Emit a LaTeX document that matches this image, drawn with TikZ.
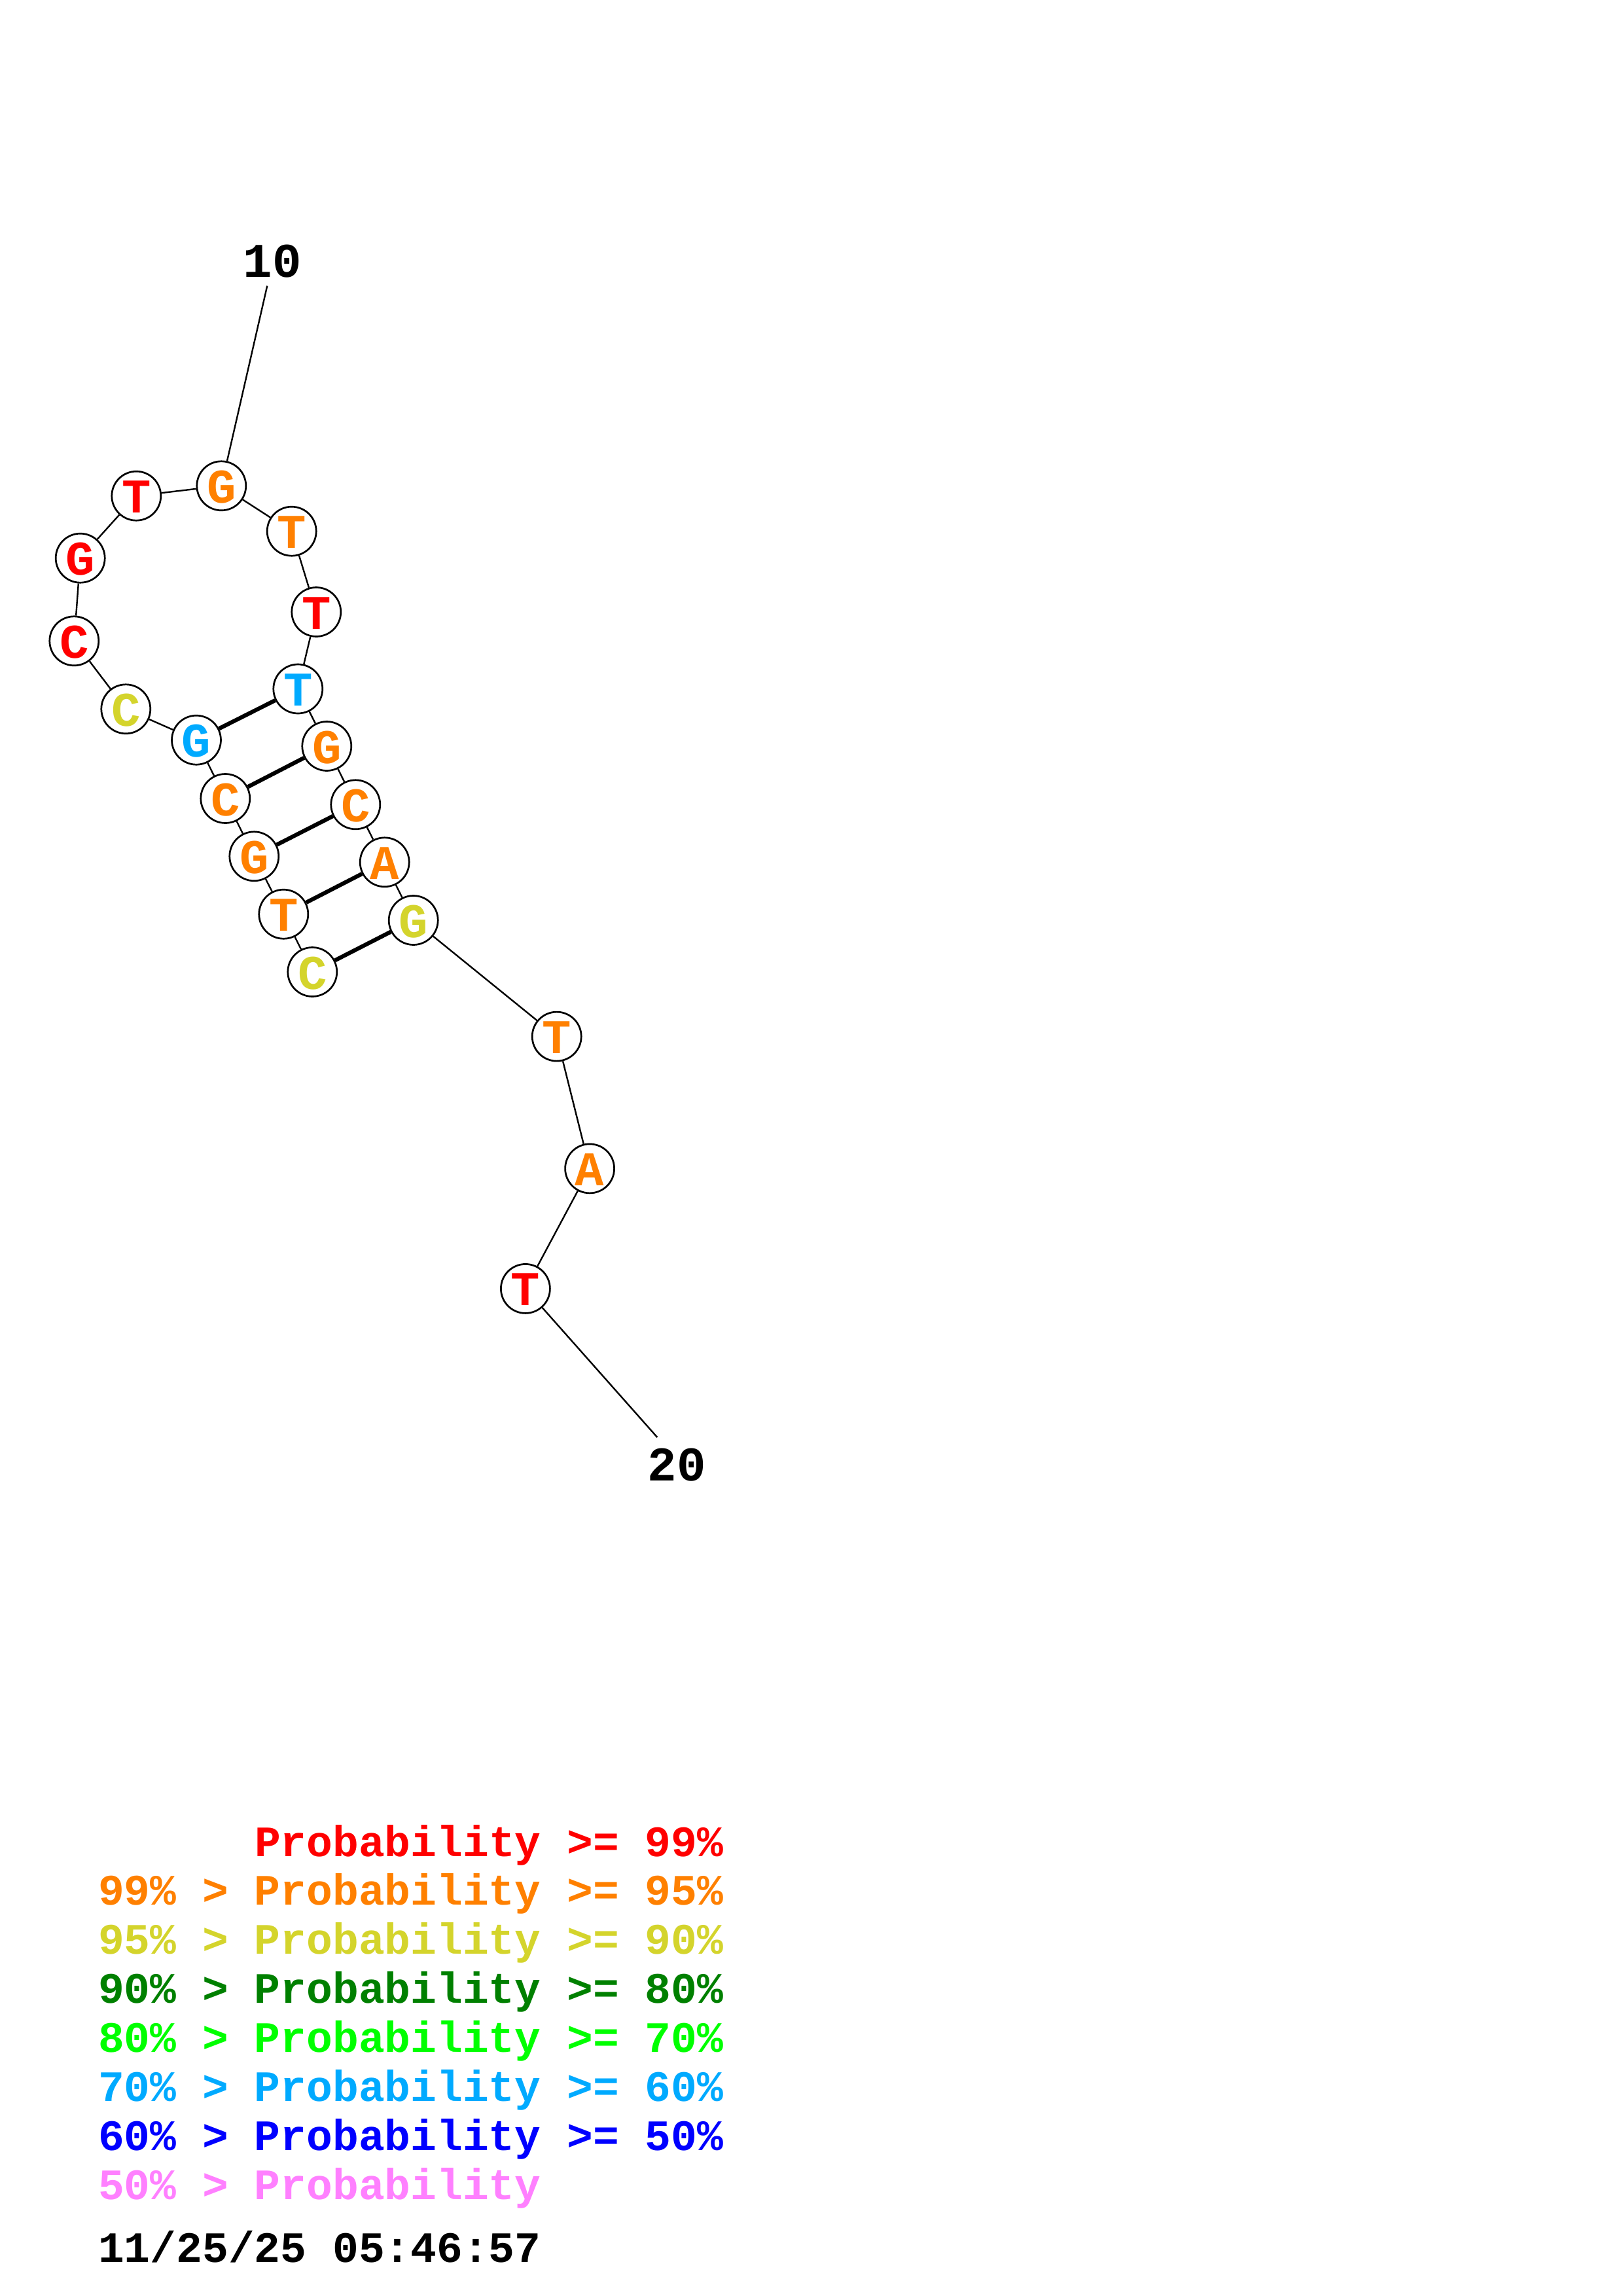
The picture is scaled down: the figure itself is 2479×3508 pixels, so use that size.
\documentclass[tikz,border=0pt]{standalone}
\usepackage{fontspec}
\newfontfamily\monofam{Liberation Mono}
\newcommand\nodefnt{\monofam\bfseries\fontsize{74}{80}\selectfont}
\newcommand\legfnt{\monofam\bfseries\fontsize{66.3}{75}\selectfont}
\definecolor{pred}{RGB}{255,0,0}
\definecolor{porange}{RGB}{255,128,0}
\definecolor{pyellow}{RGB}{212,212,44}
\definecolor{pdgreen}{RGB}{0,128,0}
\definecolor{pgreen}{RGB}{0,255,0}
\definecolor{plblue}{RGB}{0,170,255}
\definecolor{pblue}{RGB}{0,0,255}
\definecolor{ppink}{RGB}{255,128,255}
\tikzset{
  nt/.style={circle, draw=black, line width=2.7pt, fill=white, minimum size=75pt,
    inner sep=0pt, text height=52pt, text depth=0pt, font=\nodefnt},
  bb/.style={line width=2.4pt, draw=black},
  pair/.style={line width=6.2pt, draw=black},
  numlab/.style={anchor=base, inner sep=0pt, font=\nodefnt},
  leg/.style={anchor=base west, inner sep=0pt, font=\legfnt}
}
\begin{document}
\begin{tikzpicture}[x=1pt,y=-1pt]
\fill[white] (0,0) rectangle (2479,3508);
\useasboundingbox (0,0) rectangle (2479,3508);
% nucleotides
\node[nt, text=pyellow] (n1) at (477.3,1485) {C};
\node[nt, text=porange] (n2) at (433.3,1396.7) {T};
\node[nt, text=porange] (n3) at (388.3,1308.3) {G};
\node[nt, text=porange] (n4) at (344.3,1220) {C};
\node[nt, text=plblue] (n5) at (300,1130.7) {G};
\node[nt, text=pyellow] (n6) at (192.3,1083.3) {C};
\node[nt, text=pred] (n7) at (113.3,979.3) {C};
\node[nt, text=pred] (n8) at (122.7,852.7) {G};
\node[nt, text=pred] (n9) at (208.3,757.7) {T};
\node[nt, text=porange] (n10) at (338.3,742.3) {G};
\node[nt, text=porange] (n11) at (445.7,811.7) {T};
\node[nt, text=pred] (n12) at (483.3,935) {T};
\node[nt, text=plblue] (n13) at (455.3,1052.5) {T};
\node[nt, text=porange] (n14) at (499.3,1140) {G};
\node[nt, text=porange] (n15) at (543.3,1229.3) {C};
\node[nt, text=porange] (n16) at (587.7,1317.3) {A};
\node[nt, text=pyellow] (n17) at (631.7,1406) {G};
\node[nt, text=porange] (n18) at (850.7,1583.6) {T};
\node[nt, text=porange] (n19) at (901.1,1785.4) {A};
\node[nt, text=pred] (n20) at (802.9,1968.9) {T};
% backbone
\foreach \a/\b in {1/2,2/3,3/4,4/5,5/6,6/7,7/8,8/9,9/10,10/11,11/12,12/13,13/14,14/15,15/16,16/17,17/18,18/19,19/20}
  \draw[bb] (n\a) -- (n\b);
% pairs
\foreach \a/\b in {1/17,2/16,3/15,4/14,5/13}
  \draw[pair] (n\a) -- (n\b);
% number labels
\node[numlab] (lab10) at (416.3,423.5) {10};
\coordinate (e10) at (408.3,436.7);
\draw[bb] (n10) -- (e10);
\node[numlab] (lab20) at (1034,2262.5) {20};
\coordinate (e20) at (1004.3,2196);
\draw[bb] (n20) -- (e20);
% legend
\node[leg, text=pred] (l1) at (388.8,2836) {Probability >= 99\%};
\node[leg, text=porange] (l2) at (150,2910.9) {99\% > Probability >= 95\%};
\node[leg, text=pyellow] (l3) at (150,2985.8) {95\% > Probability >= 90\%};
\node[leg, text=pdgreen] (l4) at (150,3060.7) {90\% > Probability >= 80\%};
\node[leg, text=pgreen] (l5) at (150,3135.6) {80\% > Probability >= 70\%};
\node[leg, text=plblue] (l6) at (150,3210.5) {70\% > Probability >= 60\%};
\node[leg, text=pblue] (l7) at (150,3285.4) {60\% > Probability >= 50\%};
\node[leg, text=ppink] (l8) at (150,3360.3) {50\% > Probability};
\node[leg, text=black] (l9) at (150,3456.5) {11/25/25 05:46:57};
\end{tikzpicture}
\end{document}
